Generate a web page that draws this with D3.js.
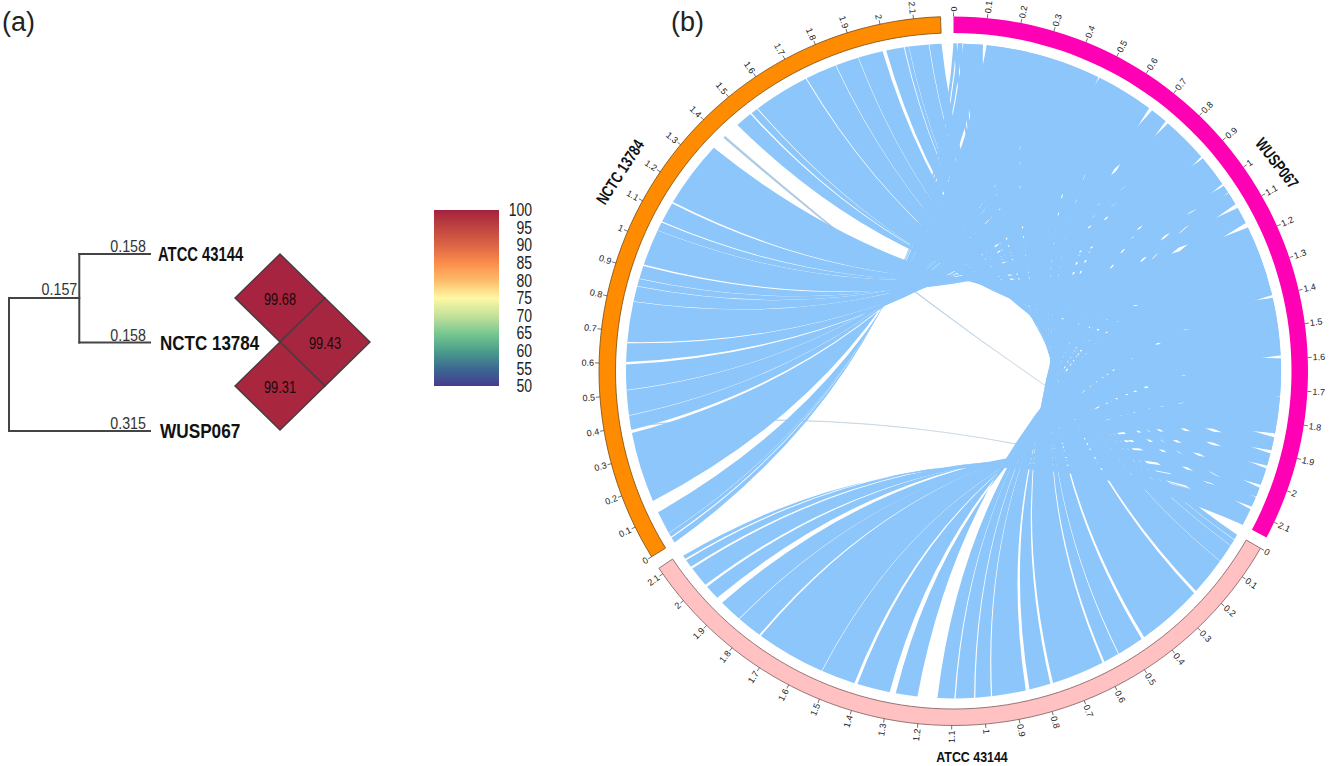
<!DOCTYPE html>
<html><head><meta charset="utf-8">
<script src="https://cdn.jsdelivr.net/npm/d3@7"></script>
<style>
html,body{margin:0;padding:0;background:#fff;overflow:hidden}
text{font-family:"Liberation Sans",Arial,sans-serif}
</style></head><body>
<svg id="c" width="1333" height="766"></svg>
<script>
// ---- data ----
const treeTips = ["ATCC 43144","NCTC 13784","WUSP067"];
const treeLengths = {inner:0.157, atcc:0.158, nctc:0.158, wusp:0.315};
const aniCells = [[0,0,99.68],[1,1,99.43],[0,2,99.31]];
const legendValues = [100,95,90,85,80,75,70,65,60,55,50];
const legendColors = ["#a4223f","#c04440","#dc6445","#fa8c4a","#fdbb6a","#fff8a4","#c4e29a","#79c890","#4b9f8b","#3b6a90","#473c90"];
const tickValues = d3.range(0,22).map(d=>d/10);
const tickLabels = ["0","0.1","0.2","0.3","0.4","0.5","0.6","0.7","0.8","0.9","1","1.1","1.2","1.3","1.4","1.5","1.6","1.7","1.8","1.9","2","2.1"];

const pinkName="WUSP067", orangeName="NCTC 13784", salmonName="ATCC 43144";
const pinkLen=2.15, orangeLen=2.18, salmonLen=2.12;
// gaps between collinear blocks: [other start, other end, pink start, pink end]
const orangeGaps = [
 [.018,.022,.010,.014],[.035,.036,.028,.032],[.11,.15,.094,.106],[.377,.387,.36,.362],[.433,.435,.40,.402],
 [.514,.516,.478,.482],[.597,.605,.668,.680],[.665,.669,.735,.745],[.7995,.8005,.82,.821],[.8495,.8505,.86,.861],
 [.874,.876,.895,.903],[.918,.923,1.005,1.013],[1.0395,1.0405,1.038,1.041],[1.068,1.072,1.082,1.096],
 [1.138,1.143,1.15,1.166],[1.36,1.465,1.395,1.405],[1.519,1.524,1.51,1.512],[1.546,1.549,1.59,1.60],
 [1.729,1.732,1.72,1.722],[1.833,1.835,1.84,1.853],[1.909,1.9105,1.895,1.906],[1.99,2.002,1.945,1.955],
 [2.059,2.062,2.01,2.02],[2.0745,2.0755,2.05,2.053],[2.139,2.141,2.085,2.095]];
const salmonGaps = [
 [.018,.019,.010,.014],[.04,.041,.028,.032],[.10,.101,.094,.106],[.223,.232,.24,.248],[.445,.455,.478,.484],
 [.541,.544,.56,.562],[.594,.601,.668,.680],[.772,.781,.735,.745],[.85,.862,.895,.903],[.971,.975,1.005,1.013],
 [1.025,1.029,1.038,1.041],[1.088,1.092,1.082,1.096],[1.146,1.21,1.15,1.166],[1.28,1.30,1.395,1.405],
 [1.406,1.416,1.59,1.60],[1.526,1.528,1.72,1.722],[1.752,1.758,1.84,1.853],[1.839,1.841,1.895,1.906],
 [1.915,1.937,1.945,1.955],[1.985,1.993,2.01,2.02],[2.06,2.067,2.05,2.053],[2.093,2.098,2.085,2.095]];
// single thin links: [orange start, orange end, pink start, pink end]
const thinLinks = [[1.405,1.412,2.113,2.115],[.399,.402,2.097,2.099]];

// ---- layout ----
const svg=d3.select("#c");
const cx=953.5, cy=371, R=354.5, Rin=338, Rrib=327.5, k=26;
const rad=d=>d*Math.PI/180;
const pt=(r,a)=>[cx+r*Math.sin(rad(a)),cy-r*Math.cos(rad(a))];
const pinkA=d3.scaleLinear().domain([0,pinkLen]).range([0,118]);
const orangeA=d3.scaleLinear().domain([0,orangeLen]).range([238.4,357.9]);
const salmonA=d3.scaleLinear().domain([0,salmonLen]).range([120,236.2]);
// horizontally condense a text selection (no condensed face is installed)
function narrow(sel,f){
  sel.each(function(d,i){
    const w=this.getComputedTextLength();
    d3.select(this).attr("textLength",w*(typeof f==="function"?f(d,i):f)).attr("lengthAdjust","spacingAndGlyphs");
  });
}
function ctrl(a,b){
  let d=((b-a)%360+360)%360; if(d>180)d-=360;
  return pt(k,a+d/2);
}
function ribbon(a0,a1,b0,b1){
  const A0=pt(Rrib,a0),B1=pt(Rrib,b1);
  const c1=ctrl(a1,b1),c0=ctrl(b0,a0),B0=pt(Rrib,b0);
  const p=d3.path();
  p.moveTo(...A0);
  p.arc(cx,cy,Rrib,rad(a0-90),rad(a1-90));
  p.quadraticCurveTo(...c1,...B1);
  p.arc(cx,cy,Rrib,rad(b1-90),rad(b0-90),true);
  p.quadraticCurveTo(...c0,...A0);
  p.closePath();
  return p.toString();
}
function blocks(gaps,len){
  const out=[]; let o=0,p=0;
  gaps.forEach(g=>{out.push([o,g[0],p,g[2]]);o=g[1];p=g[3];});
  out.push([o,len,p,pinkLen]);
  return out;
}
const ribbons=[
  ...blocks(salmonGaps,2.11).map(b=>ribbon(salmonA(b[0]),salmonA(b[1]),pinkA(b[2]),pinkA(b[3]))),
  ...blocks(orangeGaps,orangeLen).map(b=>ribbon(orangeA(b[0]),orangeA(b[1]),pinkA(b[2]),pinkA(b[3])))
];
const gRib=svg.append("g");
gRib.selectAll("path.link").data(thinLinks).join("path").attr("class","link")
  .attr("d",b=>ribbon(orangeA(b[0]),orangeA(b[1]),pinkA(b[2]),pinkA(b[3])))
  .attr("fill","#a6cbe8").attr("stroke","#b4c8d8").attr("stroke-width",.4);
gRib.selectAll("path.rib").data(ribbons).join("path").attr("class","rib").attr("d",d=>d).attr("fill","#8cc6fb");

// ---- rings ----
const arc=d3.arc().innerRadius(Rin).outerRadius(R);
const rings=[
 {scale:pinkA,len:pinkLen,fill:"#ff00b4",stroke:"#ff00b4",sw:0},
 {scale:salmonA,len:salmonLen,fill:"#ffc1c1",stroke:"#7d5a5a",sw:.8},
 {scale:orangeA,len:orangeLen,fill:"#ff8c00",stroke:"#7a4a10",sw:.8}];
rings.forEach(r=>{
  const [a0,a1]=r.scale.range();
  svg.append("path").attr("transform",`translate(${cx},${cy})`)
    .attr("d",arc({startAngle:rad(a0),endAngle:rad(a1)}))
    .attr("fill",r.fill).attr("stroke",r.stroke).attr("stroke-width",r.sw);
  const g=svg.append("g");
  tickValues.forEach((v,i)=>{
    const a=r.scale(v), p0=pt(R,a), p1=pt(R+4,a), p2=pt(R+5,a);
    g.append("line").attr("x1",p0[0]).attr("y1",p0[1]).attr("x2",p1[0]).attr("y2",p1[1])
      .attr("stroke","#333").attr("stroke-width",.7);
    const right=a<180;
    g.append("text").attr("transform",`translate(${p2[0]},${p2[1]}) rotate(${right?a-90:a+90})`)
      .attr("text-anchor",right?"start":"end").attr("dy","0.34em")
      .attr("font-size",9).attr("fill","#222").text(tickLabels[i]);
  });
});
// sector names
const nameStyle=s=>s.attr("font-size",16.5).attr("font-weight","bold").attr("fill","#111").attr("text-anchor","middle");
svg.append("text").call(nameStyle).attr("transform","translate(1277,163) rotate(52)").attr("dy","0.35em").text(pinkName).call(narrow,.76);
svg.append("text").call(nameStyle).attr("transform","translate(620,172) rotate(-57)").attr("dy","0.35em").text(orangeName).call(narrow,.76);
svg.append("text").call(nameStyle).attr("transform","translate(972,757)").attr("dy","0.3em").attr("font-size",15.5).text(salmonName).call(narrow,.8);

// ---- panel letters ----
svg.append("text").attr("x",2).attr("y",31).attr("font-size",27).attr("fill","#222").text("(a)");
svg.append("text").attr("x",671).attr("y",31).attr("font-size",27).attr("fill","#222").text("(b)");

// ---- tree ----
const tx=d3.scaleLinear().domain([0,treeLengths.wusp]).range([9,150]);
const ty=d3.scaleLinear().domain([0,2]).range([254,431]);
const rootY=298;
const segs=[
 [0,rootY,0,ty(2)],[0,rootY,treeLengths.inner,rootY],
 [treeLengths.inner,ty(0),treeLengths.inner,ty(1)],
 [treeLengths.inner,ty(0),treeLengths.inner+treeLengths.atcc,ty(0)],
 [treeLengths.inner,ty(1),treeLengths.inner+treeLengths.nctc,ty(1)],
 [0,ty(2),treeLengths.wusp,ty(2)]];
svg.selectAll("line.tree").data(segs).join("line").attr("class","tree")
 .attr("x1",d=>tx(d[0])).attr("y1",d=>d[1]).attr("x2",d=>tx(d[2])).attr("y2",d=>d[3])
 .attr("stroke","#444").attr("stroke-width",2).attr("stroke-linecap","square");
const lenLabels=[[treeLengths.atcc,tx(treeLengths.inner+treeLengths.atcc)-4,ty(0)-2],
 [treeLengths.inner,tx(treeLengths.inner)-2,rootY-3],
 [treeLengths.nctc,tx(treeLengths.inner+treeLengths.nctc)-4,ty(1)-2],
 [treeLengths.wusp,tx(treeLengths.wusp)-4,ty(2)-2]];
svg.selectAll("text.len").data(lenLabels).join("text").attr("class","len")
 .attr("x",d=>d[1]).attr("y",d=>d[2]).attr("text-anchor","end").attr("font-size",17).attr("fill","#333").text(d=>d[0].toFixed(3)).call(narrow,.84);
const tipX=[158,160,160];
const tipSqueeze=[.74,.85,.86];
svg.selectAll("text.tip").data(treeTips).join("text").attr("class","tip")
 .attr("x",(d,i)=>tipX[i]).attr("y",(d,i)=>ty(i)+7).attr("font-size",20).attr("font-weight","bold").attr("fill","#111").text(d=>d).call(narrow,(d,i)=>tipSqueeze[i]);

// ---- heat diamonds ----
const color=d3.scaleLinear().domain(legendValues).range(legendColors);
const hx=d3.scaleLinear().domain([0,1]).range([280,325]);
const hy=d3.scaleLinear().domain([0,2]).range([298,386]);
const hw=45,hh=44;
const gH=svg.append("g");
gH.selectAll("path").data(aniCells).join("path")
 .attr("d",d=>{const X=hx(d[0]),Y=hy(d[1]);return `M${X},${Y-hh}L${X+hw},${Y}L${X},${Y+hh}L${X-hw},${Y}Z`;})
 .attr("fill",d=>color(d[2])).attr("stroke","#463c40").attr("stroke-width",1.4);
gH.selectAll("text").data(aniCells).join("text").attr("x",d=>hx(d[0])).attr("y",d=>hy(d[1])+7)
 .attr("text-anchor","middle").attr("font-size",16).attr("fill","#1a0a0a").text(d=>d[2].toFixed(2)).call(narrow,.8);

// ---- colour legend ----
const ly=d3.scaleLinear().domain([50,100]).range([386,210]);
const defs=svg.append("defs");
const lg=defs.append("linearGradient").attr("id","lg").attr("x1",0).attr("x2",0).attr("y1",0).attr("y2",1);
legendValues.forEach((v,i)=>lg.append("stop").attr("offset",(100-v)/50).attr("stop-color",legendColors[i]));
svg.append("rect").attr("x",434).attr("y",ly(100)).attr("width",65).attr("height",ly(50)-ly(100)).attr("fill","url(#lg)");
svg.selectAll("text.lg").data(legendValues).join("text").attr("class","lg")
 .attr("x",532).attr("y",d=>ly(d)).attr("dy","0.35em").attr("text-anchor","end").attr("font-size",17.5).attr("fill","#222").text(d=>d).call(narrow,.8);
</script></body></html>
